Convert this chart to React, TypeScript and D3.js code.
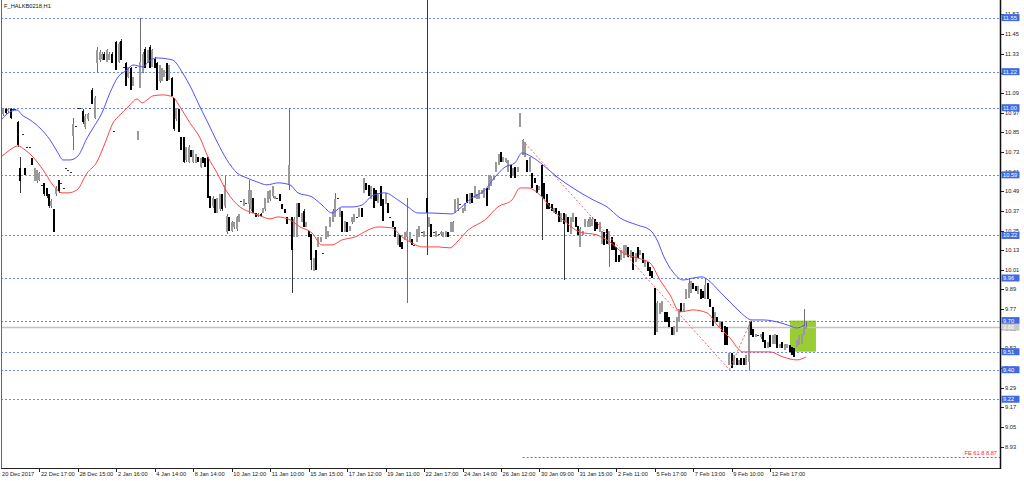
import React, { useEffect } from 'react';
import * as d3 from 'd3';

const title = 'F_HALKB0218,H1';

const opens = [
10.94,10.96,10.99,10.98,10.99,10.99,10.99,10.91,10.63,10.84,
10.63,10.76,10.76,10.69,10.55,10.55,10.56,10.53,10.54,10.51,
10.47,10.40,10.38,10.47,10.56,10.54,10.51,10.63,10.62,10.61,
10.83,10.89,11.00,11.00,10.98,10.88,10.93,11.00,11.11,10.94,
11.27,11.29,11.30,11.33,11.28,11.29,11.33,10.86,11.40,11.28,
11.41,11.25,11.27,11.19,11.24,11.13,11.25,10.80,11.12,11.22,
11.36,11.27,11.37,11.25,11.30,11.27,11.16,11.16,11.19,11.27,
11.17,11.18,11.06,10.93,10.99,10.82,10.82,10.68,10.67,10.74,
10.67,10.66,10.70,10.64,10.70,10.69,10.70,10.46,10.40,10.44,
10.36,10.38,10.47,10.40,10.24,10.33,10.25,10.27,10.26,10.30,
10.43,10.40,10.42,10.41,10.38,10.45,10.36,10.34,10.35,10.36,
10.38,10.42,10.44,10.46,10.44,10.45,10.47,10.41,10.38,10.33,
10.53,10.33,10.21,10.21,10.42,10.30,10.37,10.27,10.25,10.23,
10.00,10.13,10.15,10.18,10.11,10.20,10.21,10.27,10.30,10.33,
10.45,10.33,10.37,10.24,10.30,10.25,10.30,10.30,10.33,10.33,
10.39,10.48,10.54,10.53,10.44,10.51,10.50,10.42,10.52,10.44,
10.41,10.42,10.33,10.31,10.27,10.16,10.22,10.18,10.19,10.21,
10.18,10.20,10.16,10.18,10.21,10.24,10.21,10.45,10.27,10.29,
10.24,10.21,10.23,10.23,10.21,10.21,10.24,10.24,10.24,10.36,
10.38,10.41,10.36,10.37,10.47,10.41,10.48,10.45,10.44,10.44,
10.47,10.45,10.51,10.50,10.52,10.56,10.61,10.65,10.73,10.67,
10.67,10.61,10.65,10.58,10.64,10.61,10.88,10.71,10.70,10.68,
10.61,10.60,10.57,10.53,10.50,10.65,10.54,10.47,10.42,10.41,
10.36,10.39,10.37,10.30,10.36,10.30,10.33,10.23,10.30,10.33,
10.28,10.15,10.22,10.27,10.27,10.27,10.28,10.32,10.30,10.24,
10.17,10.24,10.26,10.16,10.21,10.18,10.15,10.10,10.07,10.08,
10.10,10.15,10.08,10.12,10.06,10.15,10.10,10.11,10.03,10.06,
10.03,10.00,9.90,9.63,9.74,9.75,9.75,9.75,9.72,9.66,
9.61,9.63,9.69,9.81,9.75,9.83,9.84,9.87,9.93,9.91,
9.86,9.89,9.88,9.83,9.93,9.83,9.78,9.69,9.72,9.66,
9.69,9.67,9.66,9.43,9.50,9.43,9.47,9.43,9.47,9.47,
9.43,9.45,9.69,9.65,9.60,9.61,9.60,9.63,9.58,9.53,
9.61,9.56,9.56,9.61,9.53,9.57,9.52,9.53,9.55,9.54,
9.53,9.54,9.55,9.56,9.61,9.65];

const highs = [
10.98,11.00,11.00,11.00,11.00,10.99,10.99,10.92,10.70,10.84,
10.63,10.76,10.76,10.69,10.63,10.62,10.61,10.53,10.54,10.51,
10.47,10.44,10.38,10.52,10.56,10.54,10.51,10.63,10.62,10.61,
10.94,10.89,11.00,11.00,10.99,10.96,10.97,11.00,11.12,11.07,
11.37,11.35,11.34,11.34,11.36,11.34,11.34,10.86,11.41,11.40,
11.42,11.25,11.28,11.25,11.25,11.19,11.25,10.86,11.55,11.34,
11.37,11.35,11.38,11.36,11.31,11.28,11.26,11.24,11.23,11.27,
11.26,11.19,11.06,11.00,10.99,10.82,10.82,10.76,10.77,10.74,
10.74,10.72,10.70,10.69,10.70,10.69,10.70,10.46,10.46,10.44,
10.45,10.47,10.47,10.58,10.35,10.33,10.31,10.30,10.34,10.35,
10.43,10.44,10.42,10.56,10.50,10.45,10.36,10.36,10.36,10.39,
10.45,10.49,10.50,10.52,10.46,10.45,10.47,10.41,10.38,10.33,
11.00,10.33,10.33,10.42,10.42,10.36,10.38,10.30,10.25,10.23,
10.08,10.13,10.21,10.21,10.11,10.28,10.25,10.33,10.38,10.48,
10.45,10.39,10.37,10.31,10.30,10.28,10.33,10.35,10.33,10.39,
10.39,10.57,10.54,10.53,10.52,10.51,10.50,10.48,10.52,10.44,
10.48,10.42,10.33,10.31,10.27,10.23,10.22,10.18,10.24,10.45,
10.24,10.20,10.16,10.26,10.28,10.24,10.25,11.66,10.33,10.29,
10.24,10.25,10.23,10.25,10.24,10.25,10.24,10.30,10.31,10.44,
10.45,10.41,10.39,10.42,10.47,10.48,10.48,10.52,10.47,10.50,
10.50,10.51,10.51,10.59,10.58,10.59,10.67,10.72,10.73,10.70,
10.69,10.68,10.65,10.63,10.64,10.64,10.97,10.81,10.79,10.68,
10.70,10.60,10.57,10.53,10.52,10.65,10.54,10.47,10.42,10.41,
10.39,10.39,10.37,10.36,10.36,10.35,10.33,10.33,10.36,10.33,
10.28,10.27,10.25,10.32,10.32,10.33,10.33,10.32,10.30,10.30,
10.25,10.24,10.26,10.25,10.21,10.18,10.15,10.10,10.13,10.16,
10.16,10.15,10.13,10.12,10.11,10.15,10.13,10.11,10.07,10.06,
10.03,10.00,9.90,9.82,9.81,9.82,9.75,9.75,9.72,9.66,
9.67,9.72,9.77,9.81,9.81,9.89,9.96,9.94,9.93,9.91,
9.91,9.89,9.88,9.96,9.93,9.83,9.78,9.75,9.72,9.70,
9.69,9.67,9.66,9.50,9.50,9.49,9.47,9.46,9.47,9.47,
9.49,9.70,9.70,9.65,9.62,9.61,9.62,9.63,9.58,9.57,
9.61,9.61,9.62,9.61,9.56,9.57,9.56,9.56,9.55,9.54,
9.53,9.58,9.61,9.62,9.77,9.69];

const lows = [
10.93,10.95,10.96,10.97,10.93,10.99,10.99,10.76,10.48,10.84,
10.59,10.76,10.76,10.65,10.55,10.54,10.55,10.53,10.46,10.45,
10.39,10.39,10.24,10.46,10.48,10.54,10.51,10.63,10.62,10.61,
10.74,10.89,11.00,11.00,10.90,10.87,10.92,11.00,11.02,10.93,
11.21,11.28,11.29,11.29,11.28,11.29,11.27,10.86,11.23,11.27,
11.29,11.25,11.13,11.18,11.11,11.13,11.25,10.80,11.12,11.21,
11.24,11.27,11.24,11.25,11.24,11.11,11.15,11.16,11.19,11.16,
11.17,11.07,10.86,10.92,10.85,10.74,10.66,10.67,10.66,10.70,
10.66,10.66,10.67,10.63,10.66,10.64,10.45,10.39,10.39,10.36,
10.36,10.37,10.37,10.39,10.23,10.25,10.24,10.26,10.25,10.30,
10.43,10.40,10.42,10.35,10.37,10.36,10.33,10.33,10.33,10.36,
10.37,10.42,10.43,10.45,10.44,10.45,10.43,10.38,10.36,10.29,
10.50,9.87,10.21,10.21,10.33,10.30,10.27,10.27,10.21,10.01,
10.00,10.01,10.15,10.18,10.11,10.20,10.21,10.27,10.30,10.33,
10.45,10.33,10.24,10.24,10.24,10.25,10.29,10.30,10.33,10.33,
10.33,10.48,10.50,10.46,10.44,10.39,10.43,10.42,10.40,10.31,
10.41,10.36,10.33,10.27,10.21,10.16,10.15,10.14,10.19,9.81,
10.18,10.16,10.16,10.18,10.21,10.24,10.21,10.10,10.27,10.21,
10.24,10.21,10.23,10.22,10.21,10.21,10.21,10.24,10.24,10.36,
10.37,10.41,10.36,10.37,10.42,10.41,10.42,10.45,10.44,10.44,
10.47,10.45,10.40,10.50,10.52,10.56,10.61,10.65,10.67,10.67,
10.66,10.61,10.57,10.58,10.57,10.61,10.88,10.71,10.70,10.61,
10.61,10.51,10.54,10.48,10.50,10.19,10.44,10.38,10.38,10.37,
10.36,10.35,10.30,10.30,9.95,10.30,10.24,10.23,10.30,10.27,
10.22,10.15,10.22,10.27,10.27,10.27,10.28,10.25,10.26,10.24,
10.17,10.16,10.17,10.03,10.13,10.13,10.06,10.06,10.07,10.08,
10.10,10.09,10.08,10.01,10.06,10.08,10.10,10.05,10.03,10.00,
9.97,9.96,9.61,9.63,9.74,9.75,9.69,9.69,9.66,9.61,
9.61,9.63,9.69,9.75,9.75,9.83,9.84,9.87,9.89,9.88,
9.86,9.83,9.84,9.83,9.83,9.78,9.67,9.69,9.69,9.66,
9.63,9.55,9.55,9.43,9.41,9.43,9.43,9.43,9.43,9.43,
9.43,9.40,9.61,9.60,9.60,9.61,9.59,9.57,9.53,9.53,
9.54,9.56,9.56,9.53,9.53,9.53,9.52,9.53,9.51,9.49,
9.48,9.54,9.55,9.56,9.61,9.65];

const closes = [
10.97,10.99,10.97,10.99,10.94,10.99,10.99,10.77,10.55,10.84,
10.59,10.76,10.76,10.65,10.63,10.62,10.60,10.53,10.47,10.46,
10.40,10.43,10.24,10.51,10.49,10.54,10.51,10.63,10.62,10.61,
10.90,10.89,11.00,11.00,10.91,10.95,10.96,11.00,11.02,11.06,
11.35,11.34,11.33,11.29,11.35,11.33,11.27,10.86,11.23,11.39,
11.29,11.25,11.13,11.25,11.11,11.19,11.25,10.86,11.28,11.33,
11.24,11.35,11.24,11.35,11.24,11.11,11.26,11.24,11.23,11.16,
11.26,11.07,10.87,11.00,10.85,10.74,10.67,10.76,10.76,10.70,
10.74,10.72,10.67,10.69,10.66,10.64,10.45,10.39,10.45,10.36,
10.45,10.47,10.38,10.53,10.34,10.25,10.30,10.30,10.33,10.35,
10.43,10.44,10.42,10.50,10.50,10.36,10.33,10.35,10.34,10.39,
10.45,10.49,10.50,10.52,10.46,10.45,10.43,10.38,10.36,10.29,
10.65,10.13,10.32,10.42,10.33,10.36,10.27,10.30,10.21,10.07,
10.08,10.01,10.21,10.21,10.11,10.28,10.25,10.33,10.37,10.44,
10.45,10.39,10.24,10.31,10.24,10.28,10.33,10.35,10.33,10.39,
10.33,10.57,10.50,10.46,10.52,10.39,10.43,10.48,10.40,10.31,
10.48,10.36,10.33,10.27,10.21,10.23,10.15,10.14,10.24,10.25,
10.24,10.16,10.16,10.26,10.28,10.24,10.25,10.36,10.33,10.21,
10.24,10.25,10.23,10.24,10.24,10.25,10.21,10.30,10.30,10.44,
10.45,10.41,10.39,10.42,10.42,10.48,10.42,10.52,10.47,10.50,
10.50,10.51,10.40,10.59,10.58,10.59,10.67,10.72,10.67,10.70,
10.69,10.68,10.57,10.63,10.57,10.64,10.97,10.80,10.79,10.61,
10.70,10.51,10.54,10.48,10.52,10.46,10.44,10.38,10.38,10.37,
10.39,10.35,10.30,10.36,10.29,10.35,10.24,10.33,10.36,10.27,
10.22,10.26,10.25,10.32,10.31,10.33,10.32,10.25,10.26,10.30,
10.25,10.16,10.17,10.25,10.13,10.13,10.06,10.06,10.13,10.16,
10.16,10.09,10.13,10.01,10.11,10.08,10.13,10.05,10.07,10.00,
9.97,9.96,9.61,9.81,9.81,9.82,9.69,9.69,9.66,9.61,
9.67,9.72,9.77,9.75,9.81,9.89,9.93,9.94,9.89,9.88,
9.91,9.83,9.84,9.92,9.83,9.78,9.67,9.75,9.69,9.70,
9.63,9.55,9.55,9.50,9.41,9.49,9.43,9.46,9.43,9.43,
9.49,9.67,9.61,9.60,9.62,9.61,9.62,9.57,9.53,9.57,
9.54,9.61,9.62,9.53,9.56,9.53,9.56,9.56,9.51,9.49,
9.48,9.58,9.61,9.62,9.67,9.66];

// Upper moving average (blue), sampled at bar positions
const maUpperBars = [0,2.5,6.7,8.7,12.1,16.2,20.4,23.7,25.8,28.7,32.0,35.8,38.3,42.0,45.3,48.7,52.4,54.9,59.1,61.2,64.9,69.1,71.5,75.3,79.5,82.8,86.1,89.9,94.0,98.2,102.3,106.5,110.6,115.2,120.2,123.5,129.4,133.5,137.7,141.8,146.0,150.2,154.3,159.7,165.1,169.3,173.5,179.3,187.6,190.1,195.9,201.3,205.5,209.7,213.8,216.7,220.9,225.5,231.3,237.9,246.3,252.1,257.5,264.6,270.0,273.3,275.4,279.5,283.7,287.9,291.6,294.1,299.1,303.2,307.4,312.4,317.0,322.8,327.0,331.1,334.4];
const maUpperValues = [10.925,10.962,10.986,10.956,10.925,10.876,10.803,10.724,10.681,10.681,10.705,10.815,10.876,10.968,11.090,11.188,11.230,11.261,11.249,11.279,11.304,11.298,11.291,11.218,11.108,11.004,10.907,10.791,10.681,10.601,10.571,10.547,10.529,10.541,10.529,10.480,10.455,10.406,10.357,10.394,10.394,10.406,10.461,10.480,10.437,10.394,10.357,10.357,10.351,10.376,10.449,10.498,10.577,10.638,10.663,10.724,10.699,10.650,10.577,10.510,10.437,10.394,10.327,10.284,10.253,10.180,10.101,9.997,9.948,9.960,9.967,9.948,9.875,9.814,9.753,9.704,9.704,9.692,9.674,9.655,9.674];

// Lower moving average (red)
const maLowerBars = [0,3.7,7.1,10.0,13.3,17.5,21.6,25.4,27.9,31.6,35.8,39.9,43.3,46.6,49.5,52.8,56.6,58.7,60.7,63.2,67.4,71.5,74.5,78.6,82.8,86.1,89.9,94.0,99.4,104.8,109.0,111.9,115.2,120.2,124.4,129.4,133.5,137.7,141.8,147.3,152.7,156.8,162.6,166.8,171.0,175.1,181.8,186.8,189.7,194.3,201.3,206.7,212.6,215.9,219.2,225.0,228.4,233.8,240.8,247.9,253.3,258.7,264.6,270.0,274.1,278.3,282.4,287.9,293.7,297.8,303.2,308.6,314.5,319.9,325.3,331.1,334.9];
const maLowerValues = [10.699,10.742,10.767,10.742,10.699,10.620,10.528,10.480,10.480,10.498,10.601,10.669,10.785,10.907,10.956,11.004,11.053,11.029,11.047,11.072,11.078,11.065,11.004,10.907,10.815,10.699,10.601,10.486,10.394,10.357,10.333,10.321,10.333,10.315,10.272,10.235,10.162,10.162,10.192,10.211,10.253,10.272,10.266,10.211,10.174,10.150,10.150,10.144,10.180,10.253,10.315,10.394,10.437,10.510,10.510,10.455,10.394,10.315,10.241,10.223,10.180,10.113,10.083,10.052,9.948,9.857,9.753,9.765,9.747,9.674,9.594,9.509,9.509,9.509,9.478,9.460,9.478];

const dateLabels = ['20 Dec 2017','22 Dec 17:00','28 Dec 15:00','2 Jan 16:00','4 Jan 14:00','8 Jan 14:00','10 Jan 12:00','11 Jan 10:00','15 Jan 15:00','17 Jan 12:00','19 Jan 11:00','22 Jan 17:00','24 Jan 14:00','26 Jan 12:00','30 Jan 09:00','31 Jan 15:00','2 Feb 11:00','5 Feb 17:00','7 Feb 13:00','9 Feb 10:00','12 Feb 17:00'];
const dateLabelBars = [0,16,32,48,64,80,96,112,128,144,160,176,192,208,224,240,256,272,288,304,320];

const priceTicks = [11.57,11.45,11.33,11.21,11.09,10.97,10.85,10.73,10.61,10.49,10.37,10.25,10.13,10.01,9.89,9.77,9.65,9.53,9.41,9.29,9.17,9.05,8.93];
const levelLines = [11.55,11.22,11.00,10.59,10.22,9.96,9.70,9.51,9.40,9.22];
const lastPrice = 9.66;

const fibBars = [217, 303, 312];
const fibPrices = [10.80, 9.40, 9.70];
const feName = 'FE 61.8';
const feLevel = 8.87;

const zoneBars = [328.2, 339];
const zonePrices = [9.70, 9.51];

const FONT = 'Liberation Sans, Arial, sans-serif';
const FS = 5.7;
const PLOT_L = 1, PLOT_R = 1000, PLOT_T = 0, PLOT_B = 468;
const BAR_W = 2.404;

export default function App() {
  useEffect(() => { document.body.style.margin = '0'; }, []);
  const x = d3.scaleLinear().domain([0, 1]).range([PLOT_L, PLOT_L + BAR_W]);
  const y = d3.scaleLinear().domain([8.93, 11.45]).range([446.7, 34]);

  const lineUpper = d3.line<number>().x((_, k) => x(maUpperBars[k])).y(v => y(v)).curve(d3.curveMonotoneX);
  const lineLower = d3.line<number>().x((_, k) => x(maLowerBars[k])).y(v => y(v)).curve(d3.curveMonotoneX);

  const candles = opens.map((o, i) => {
    const c = closes[i], h = highs[i], l = lows[i];
    const cx = Math.round(x(i));
    const top = Math.round(y(Math.max(o, c)));
    const bot = Math.round(y(Math.min(o, c)));
    const bull = c > o;
    const flat = c === o;
    const fill = flat ? '#333' : bull ? '#9a9a9a' : '#000';
    const wick = bull ? '#707070' : '#3a3a3a';
    const hy = Math.round(y(h)), ly = Math.round(y(l));
    return (
      <g key={i}>
        <rect x={cx} y={hy} width={1} height={Math.max(1, ly - hy)} fill={wick} />
        <rect x={cx - 1} y={top} width={2} height={Math.max(1, bot - top)} fill={fill} />
      </g>
    );
  });

  const fibPts = fibBars.map((b, k) => [x(b), y(fibPrices[k])] as [number, number]);

  return (
    <div style={{ position: 'absolute', left: 0, top: 0 }}>
      <svg width={1024} height={481} style={{ display: 'block', background: '#fff' }} fontFamily={FONT}>
        <defs>
          <clipPath id="plot"><rect x={PLOT_L} y={PLOT_T} width={PLOT_R - PLOT_L} height={PLOT_B - PLOT_T} /></clipPath>
        </defs>
        <rect x={0} y={0} width={1024} height={481} fill="#fff" />
        <g clipPath="url(#plot)">
          <rect x={x(zoneBars[0])} y={y(zonePrices[0])} width={x(zoneBars[1]) - x(zoneBars[0])} height={y(zonePrices[1]) - y(zonePrices[0])} fill="#9acd32" />
          {levelLines.map((p, k) => (
            <line key={k} x1={PLOT_L} x2={PLOT_R} y1={Math.round(y(p)) + 0.5} y2={Math.round(y(p)) + 0.5} stroke="#6a88f0" strokeDasharray="2,2" strokeWidth={1} />
          ))}
          <line x1={PLOT_L} x2={PLOT_R} y1={Math.round(y(lastPrice)) + 0.5} y2={Math.round(y(lastPrice)) + 0.5} stroke="#c4c4c4" strokeWidth={1.5} />
          <line x1={x(fibBars[0])} x2={PLOT_R} y1={Math.round(y(feLevel)) + 0.5} y2={Math.round(y(feLevel)) + 0.5} stroke="#ff4040" strokeDasharray="2,2" />
          <g shapeRendering="crispEdges">{candles}</g>
          <path d={lineUpper(maUpperValues) || ''} fill="none" stroke="#5050ff" strokeWidth={1} />
          <path d={lineLower(maLowerValues) || ''} fill="none" stroke="#ff4545" strokeWidth={1} />
          <line x1={fibPts[0][0]} y1={fibPts[0][1]} x2={fibPts[1][0]} y2={fibPts[1][1]} stroke="#ff6060" strokeDasharray="2,2" />
          <line x1={fibPts[1][0]} y1={fibPts[1][1]} x2={fibPts[2][0]} y2={fibPts[2][1]} stroke="#ff6060" strokeDasharray="2,2" />
        </g>
        <text x={997} y={y(feLevel) - 2} fontSize={FS} fill="#ff2020" textAnchor="end">{`${feName} ${feLevel.toFixed(2)}`}</text>
        <text x={4} y={8} fontSize={FS} fill="#111">{title}</text>
        {/* frame */}
        <line x1={1.5} x2={1.5} y1={0} y2={PLOT_B} stroke="#666" />
        <line x1={PLOT_L} x2={PLOT_R + 1} y1={PLOT_B + 0.5} y2={PLOT_B + 0.5} stroke="#222" />
        <line x1={PLOT_R + 0.5} x2={PLOT_R + 0.5} y1={0} y2={PLOT_B + 1} stroke="#111" strokeWidth={1.5} />
        {/* price axis */}
        {priceTicks.map((p, k) => (
          <g key={k}>
            <line x1={PLOT_R + 1} x2={PLOT_R + 4} y1={Math.round(y(p)) + 0.5} y2={Math.round(y(p)) + 0.5} stroke="#222" />
            <text x={PLOT_R + 5} y={y(p) + 2} fontSize={FS} fill="#222">{p.toFixed(2)}</text>
          </g>
        ))}
        {levelLines.map((p, k) => (
          <g key={k}>
            <rect x={PLOT_R + 1.5} y={y(p) - 3.5} width={18} height={7} fill="#4169e1" />
            <text x={PLOT_R + 3} y={y(p) + 2} fontSize={FS} fill="#fff">{p.toFixed(2)}</text>
          </g>
        ))}
        <rect x={PLOT_R + 1.5} y={y(lastPrice) - 3.5} width={18} height={7} fill="#c8c8c8" />
        <text x={PLOT_R + 3} y={y(lastPrice) + 2} fontSize={FS} fill="#fff">{lastPrice.toFixed(2)}</text>
        {/* time axis */}
        {dateLabelBars.map((b, k) => (
          <g key={k}>
            {k > 0 && <line x1={Math.round(x(b)) + 0.5} x2={Math.round(x(b)) + 0.5} y1={PLOT_B} y2={PLOT_B + 4} stroke="#222" />}
            <text x={k === 0 ? 2 : x(b) + 1.5} y={475.5} fontSize={FS} fill="#222">{dateLabels[k]}</text>
          </g>
        ))}
      </svg>
    </div>
  );
}
